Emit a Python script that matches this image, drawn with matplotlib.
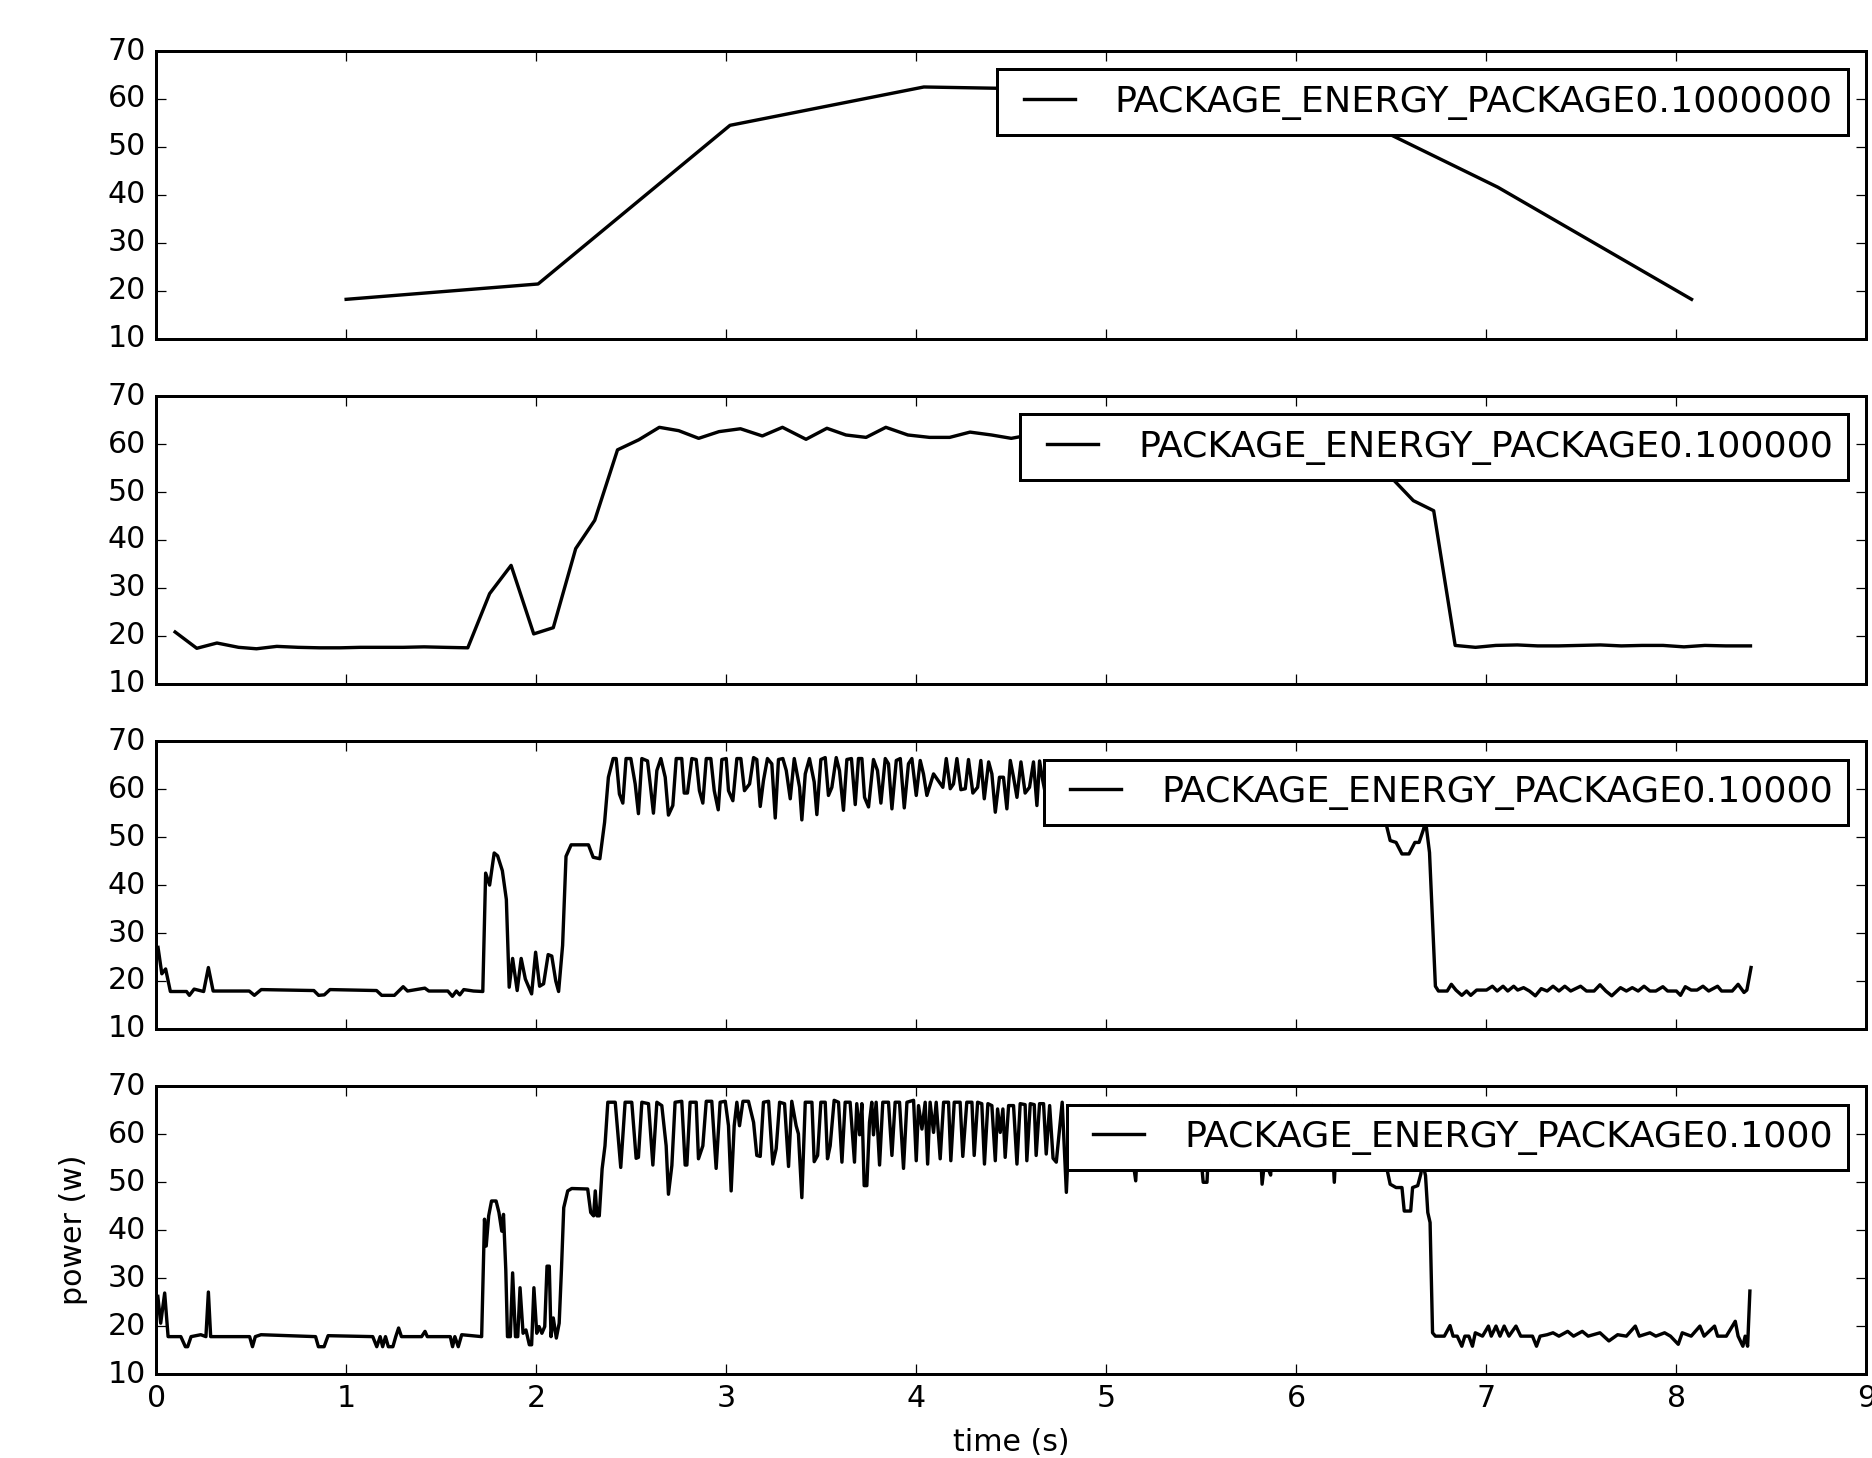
import matplotlib
matplotlib.use('Agg')
import matplotlib.pyplot as plt

# RAPL package power, sampled at 4 different intervals
labels = ['PACKAGE_ENERGY_PACKAGE0.1000000',
          'PACKAGE_ENERGY_PACKAGE0.100000',
          'PACKAGE_ENERGY_PACKAGE0.10000',
          'PACKAGE_ENERGY_PACKAGE0.1000']

# 1 s interval
t1 = [1.0, 2.01, 3.02, 4.04, 5.05, 6.06, 7.06, 8.08]
p1 = [18.2, 21.4, 54.5, 62.5, 61.8, 61.0, 41.6, 18.2]

# 100 ms interval
t2 = [0.1, 0.214, 0.32, 0.434, 0.528, 0.635, 0.748, 0.86, 0.97, 1.075,
      1.19, 1.3, 1.41, 1.516, 1.64, 1.755, 1.868, 1.987, 2.09, 2.208,
      2.308, 2.428, 2.54, 2.648, 2.75, 2.855, 2.962, 3.075, 3.19, 3.296,
      3.42, 3.53, 3.63, 3.736, 3.84, 3.956, 4.07, 4.176, 4.283, 4.396,
      4.5, 4.61, 4.72, 4.82, 4.93, 5.04, 5.14, 5.25, 5.36, 5.46,
      5.57, 5.68, 5.78, 5.89, 6.0, 6.1, 6.21, 6.32, 6.40, 6.51,
      6.616, 6.723, 6.836, 6.943, 7.05, 7.163, 7.27, 7.38, 7.49, 7.6,
      7.71, 7.82, 7.93, 8.04, 8.15, 8.26, 8.39]
p2 = [20.8, 17.4, 18.5, 17.6, 17.3, 17.8, 17.6, 17.5, 17.5, 17.6,
      17.6, 17.6, 17.7, 17.6, 17.5, 28.8, 34.7, 20.4, 21.7, 38.2,
      44.1, 58.8, 60.9, 63.5, 62.8, 61.2, 62.6, 63.2, 61.7, 63.5,
      61.0, 63.3, 61.9, 61.4, 63.5, 61.9, 61.4, 61.4, 62.5, 61.9,
      61.2, 62.0, 61.5, 62.8, 61.6, 62.3, 61.4, 62.9, 61.8, 62.2,
      61.3, 62.6, 61.9, 62.4, 61.5, 62.0, 61.2, 60.5, 59.5, 52.6,
      48.2, 46.1, 18.0, 17.6, 18.0, 18.1, 17.9, 17.9, 18.0, 18.1,
      17.9, 18.0, 18.0, 17.7, 18.0, 17.9, 17.9]

# 10 ms interval
t3 = [0.01, 0.03, 0.05, 0.075, 0.16, 0.175, 0.2, 0.25, 0.275, 0.3,
      0.4, 0.49, 0.517, 0.553, 0.83, 0.855, 0.885, 0.915, 1.16, 1.187,
      1.254, 1.3, 1.323, 1.414, 1.435, 1.535, 1.559, 1.58, 1.598, 1.619,
      1.67, 1.719, 1.734, 1.755, 1.779, 1.797, 1.822, 1.843, 1.858, 1.876,
      1.9, 1.921, 1.943, 1.976, 1.997, 2.018, 2.039, 2.063, 2.082, 2.103,
      2.118, 2.139, 2.157, 2.184, 2.214, 2.275, 2.3, 2.335, 2.36, 2.38,
      2.405, 2.421, 2.438, 2.456, 2.473, 2.498, 2.521, 2.538, 2.556, 2.586,
      2.600, 2.617, 2.635, 2.656, 2.679, 2.696, 2.719, 2.737, 2.766, 2.779,
      2.796, 2.819, 2.842, 2.859, 2.877, 2.895, 2.919, 2.937, 2.958, 2.977,
      3.000, 3.012, 3.035, 3.056, 3.077, 3.096, 3.123, 3.144, 3.161, 3.179,
      3.196, 3.217, 3.240, 3.258, 3.275, 3.298, 3.316, 3.337, 3.358, 3.386,
      3.398, 3.416, 3.438, 3.463, 3.477, 3.498, 3.521, 3.538, 3.556, 3.579,
      3.596, 3.617, 3.635, 3.659, 3.679, 3.696, 3.714, 3.728, 3.749, 3.775,
      3.796, 3.814, 3.837, 3.854, 3.872, 3.895, 3.916, 3.937, 3.959, 3.977,
      4.000, 4.021, 4.038, 4.056, 4.091, 4.140, 4.158, 4.179, 4.196, 4.214,
      4.235, 4.258, 4.275, 4.298, 4.323, 4.340, 4.358, 4.381, 4.398, 4.416,
      4.438, 4.459, 4.477, 4.495, 4.512, 4.530, 4.551, 4.573, 4.596, 4.617,
      4.635, 4.649, 4.665, 4.69, 4.715, 4.74, 4.765, 4.79, 4.815, 4.84,
      4.865, 4.89, 4.915, 4.94, 4.965, 4.99, 5.015, 5.04, 5.065, 5.09,
      5.115, 5.14, 5.165, 5.19, 5.215, 5.24, 5.265, 5.29, 5.315, 5.34,
      5.365, 5.39, 5.415, 5.44, 5.465, 5.49, 5.515, 5.54, 5.565, 5.59,
      5.615, 5.64, 5.665, 5.69, 5.715, 5.74, 5.765, 5.79, 5.815, 5.84,
      5.865, 5.89, 5.915, 5.94, 5.965, 5.99, 6.015, 6.04, 6.065, 6.09,
      6.115, 6.14, 6.165, 6.19, 6.215, 6.24, 6.265, 6.29, 6.315, 6.34,
      6.365, 6.39, 6.415, 6.44, 6.494, 6.525, 6.556, 6.593, 6.624, 6.646,
      6.670, 6.68, 6.701, 6.732, 6.748, 6.794, 6.816, 6.840, 6.871, 6.896,
      6.918, 6.949, 7.001, 7.032, 7.057, 7.088, 7.113, 7.144, 7.165, 7.196,
      7.227, 7.258, 7.289, 7.320, 7.351, 7.382, 7.413, 7.444, 7.496, 7.527,
      7.567, 7.598, 7.629, 7.660, 7.706, 7.737, 7.768, 7.799, 7.830, 7.861,
      7.892, 7.929, 7.954, 8.000, 8.022, 8.047, 8.078, 8.109, 8.140, 8.170,
      8.217, 8.238, 8.294, 8.325, 8.356, 8.371, 8.393]
p3 = [27.0, 21.5, 22.5, 17.8, 17.8, 17.0, 18.3, 17.8, 22.8, 17.9,
      17.9, 17.9, 17.0, 18.2, 18.0, 17.0, 17.1, 18.2, 18.0, 17.0,
      17.0, 18.8, 17.9, 18.5, 17.9, 17.9, 16.8, 17.9, 17.1, 18.2,
      17.9, 17.8, 42.5, 40.0, 46.7, 46.1, 43.0, 37.0, 18.7, 24.7,
      18.0, 24.7, 20.4, 17.3, 26.0, 18.9, 19.4, 25.5, 25.2, 20.0,
      17.8, 27.4, 46.0, 48.4, 48.4, 48.4, 45.8, 45.5, 53.1, 62.5,
      66.4, 66.4, 59.0, 57.1, 66.4, 66.4, 61.1, 54.9, 66.4, 65.9,
      61.1, 55.0, 63.9, 66.4, 62.5, 54.6, 56.6, 66.4, 66.4, 59.2,
      59.2, 66.4, 66.2, 59.7, 57.1, 66.4, 66.4, 59.7, 55.7, 66.2,
      66.4, 59.7, 57.6, 66.4, 66.4, 59.7, 61.1, 66.6, 66.2, 56.4,
      61.8, 66.4, 65.3, 54.0, 66.2, 66.4, 63.9, 58.0, 66.4, 60.4,
      53.6, 63.2, 66.4, 61.5, 54.7, 66.2, 66.6, 58.7, 60.4, 66.6,
      63.9, 55.6, 66.2, 66.4, 56.8, 66.4, 66.4, 58.3, 56.3, 66.2,
      63.9, 57.1, 66.4, 65.3, 55.9, 66.0, 66.4, 56.1, 65.3, 66.4,
      58.7, 66.0, 63.2, 58.7, 63.2, 60.4, 66.4, 60.1, 61.1, 66.4,
      59.9, 60.1, 66.2, 59.2, 60.4, 66.0, 58.0, 65.7, 63.2, 55.2,
      62.5, 62.5, 55.9, 66.0, 62.5, 58.3, 65.7, 59.2, 60.4, 65.7,
      56.6, 65.9, 62.0, 57.0, 65.0, 58.0, 65.0, 56.5, 64.5, 59.0,
      65.0, 57.0, 65.0, 58.0, 65.0, 56.0, 64.5, 59.5, 65.0, 57.0,
      65.0, 58.0, 65.0, 56.5, 65.0, 59.0, 65.0, 57.0, 64.5, 58.5,
      65.0, 56.0, 65.0, 59.0, 65.0, 57.5, 65.0, 58.0, 64.5, 56.5,
      65.0, 59.0, 65.0, 57.0, 65.0, 58.0, 65.0, 56.5, 64.5, 59.0,
      65.0, 57.0, 65.0, 58.5, 65.0, 56.0, 65.0, 59.0, 64.5, 57.0,
      65.0, 58.0, 65.0, 56.5, 65.0, 59.0, 65.0, 57.0, 64.5, 58.0,
      65.0, 57.0, 64.0, 58.0, 49.3, 48.9, 46.5, 46.5, 48.9, 48.9,
      51.7, 53.5, 46.8, 18.9, 17.9, 17.9, 19.3, 18.1, 17.0, 17.9,
      17.0, 18.1, 18.1, 18.9, 17.9, 18.9, 17.9, 18.9, 18.1, 18.6,
      17.9, 16.9, 18.4, 17.9, 18.9, 17.9, 18.9, 17.9, 18.9, 17.9,
      17.9, 19.2, 17.9, 16.9, 18.6, 17.9, 18.6, 17.9, 18.9, 17.9,
      17.9, 18.8, 17.9, 17.9, 17.0, 18.8, 18.1, 18.1, 18.9, 17.9,
      18.9, 17.9, 17.9, 19.3, 17.6, 18.1, 22.8]

# 1 ms interval
t4 = [0.009, 0.024, 0.045, 0.063, 0.130, 0.154, 0.166, 0.184, 0.235, 0.262,
      0.275, 0.287, 0.492, 0.507, 0.522, 0.552, 0.839, 0.854, 0.884, 0.905,
      1.140, 1.161, 1.179, 1.192, 1.207, 1.222, 1.246, 1.261, 1.276, 1.291,
      1.397, 1.415, 1.427, 1.548, 1.560, 1.572, 1.590, 1.608, 1.713, 1.728,
      1.737, 1.750, 1.765, 1.789, 1.804, 1.819, 1.828, 1.840, 1.849, 1.864,
      1.876, 1.891, 1.903, 1.915, 1.931, 1.946, 1.964, 1.976, 1.988, 2.003,
      2.015, 2.030, 2.045, 2.057, 2.069, 2.078, 2.090, 2.106, 2.121, 2.133,
      2.145, 2.166, 2.187, 2.271, 2.287, 2.302, 2.311, 2.320, 2.332, 2.347,
      2.362, 2.377, 2.416, 2.445, 2.468, 2.503, 2.526, 2.538, 2.556, 2.591,
      2.614, 2.635, 2.661, 2.684, 2.696, 2.714, 2.731, 2.766, 2.784, 2.793,
      2.810, 2.842, 2.854, 2.877, 2.895, 2.924, 2.947, 2.968, 2.995, 3.012,
      3.026, 3.042, 3.056, 3.070, 3.088, 3.117, 3.144, 3.161, 3.179, 3.196,
      3.223, 3.245, 3.263, 3.281, 3.307, 3.328, 3.345, 3.368, 3.380, 3.398,
      3.416, 3.451, 3.463, 3.481, 3.498, 3.521, 3.533, 3.547, 3.568, 3.591,
      3.609, 3.626, 3.652, 3.675, 3.687, 3.702, 3.714, 3.726, 3.740, 3.754,
      3.766, 3.775, 3.789, 3.807, 3.824, 3.854, 3.872, 3.889, 3.912, 3.933,
      3.951, 3.986, 4.000, 4.012, 4.030, 4.047, 4.060, 4.073, 4.091, 4.105,
      4.126, 4.144, 4.170, 4.182, 4.200, 4.231, 4.245, 4.266, 4.293, 4.305,
      4.323, 4.345, 4.359, 4.377, 4.398, 4.416, 4.428, 4.442, 4.456, 4.468,
      4.486, 4.512, 4.530, 4.547, 4.573, 4.582, 4.600, 4.621, 4.631, 4.649,
      4.670, 4.684, 4.702, 4.72, 4.737, 4.768, 4.790, 4.81, 4.835, 4.86,
      4.885, 4.91, 4.935, 4.96, 4.985, 5.01, 5.035, 5.06, 5.085, 5.11,
      5.135, 5.155, 5.175, 5.2, 5.225, 5.25, 5.275, 5.3, 5.325, 5.35,
      5.375, 5.4, 5.425, 5.45, 5.475, 5.51, 5.53, 5.55, 5.575, 5.6,
      5.625, 5.65, 5.675, 5.7, 5.725, 5.75, 5.775, 5.8, 5.82, 5.835,
      5.85, 5.865, 5.885, 5.91, 5.935, 5.96, 5.985, 6.01, 6.035, 6.06,
      6.085, 6.11, 6.135, 6.16, 6.18, 6.2, 6.22, 6.245, 6.27, 6.295,
      6.32, 6.345, 6.37, 6.395, 6.42, 6.445, 6.465, 6.494, 6.525, 6.556,
      6.568, 6.602, 6.612, 6.639, 6.655, 6.665, 6.680, 6.692, 6.704, 6.717,
      6.732, 6.779, 6.809, 6.825, 6.847, 6.871, 6.887, 6.908, 6.927, 6.942,
      6.980, 7.011, 7.026, 7.051, 7.072, 7.094, 7.119, 7.156, 7.181, 7.243,
      7.264, 7.283, 7.320, 7.351, 7.382, 7.428, 7.459, 7.505, 7.536, 7.598,
      7.645, 7.691, 7.737, 7.784, 7.805, 7.861, 7.892, 7.938, 7.969, 8.010,
      8.031, 8.078, 8.124, 8.146, 8.201, 8.217, 8.263, 8.310, 8.325, 8.350,
      8.362, 8.375, 8.387]
p4 = [26.2, 20.6, 26.9, 17.8, 17.8, 15.7, 15.7, 17.8, 18.2, 17.8,
      27.1, 17.8, 17.8, 15.7, 17.8, 18.2, 17.8, 15.7, 15.7, 18.0,
      17.8, 15.7, 17.8, 15.7, 17.8, 15.7, 15.7, 17.8, 19.6, 17.8,
      17.8, 18.9, 17.8, 17.8, 15.7, 17.8, 15.7, 18.2, 17.8, 42.3,
      36.7, 43.0, 46.1, 46.1, 43.7, 39.8, 43.3, 31.8, 17.8, 17.8,
      31.1, 17.8, 17.8, 28.0, 18.5, 19.2, 16.1, 16.1, 28.0, 18.5,
      19.9, 18.5, 19.9, 32.5, 32.5, 17.8, 21.7, 17.5, 20.6, 31.8,
      44.7, 48.2, 48.7, 48.6, 43.7, 43.0, 48.2, 43.0, 43.0, 52.8,
      57.6, 66.7, 66.7, 53.1, 66.7, 66.7, 55.0, 55.2, 66.7, 66.4,
      53.6, 66.7, 66.0, 57.6, 47.5, 53.5, 66.7, 66.9, 53.6, 53.6,
      66.7, 66.7, 54.9, 57.6, 66.9, 66.9, 52.9, 66.7, 66.9, 61.8,
      48.2, 61.8, 66.7, 61.8, 66.9, 66.9, 62.5, 55.6, 55.4, 66.7,
      66.9, 53.8, 57.0, 66.7, 66.4, 53.3, 66.9, 61.8, 60.1, 46.8,
      66.7, 66.7, 54.3, 55.6, 66.7, 66.7, 54.9, 57.6, 67.1, 66.7,
      54.2, 66.7, 66.7, 54.2, 66.4, 59.9, 66.4, 49.3, 49.3, 62.5,
      66.7, 59.9, 66.7, 53.6, 66.7, 66.7, 55.6, 66.7, 66.7, 52.9,
      66.7, 67.1, 54.5, 66.0, 61.1, 66.7, 53.8, 66.7, 60.4, 66.7,
      54.9, 66.7, 66.7, 54.5, 66.7, 66.7, 55.4, 66.7, 66.7, 55.6,
      66.7, 66.4, 53.8, 66.4, 66.0, 54.5, 65.3, 60.4, 65.3, 55.2,
      66.0, 66.0, 53.8, 66.4, 66.2, 54.5, 66.4, 66.2, 55.6, 66.4,
      66.4, 55.9, 66.0, 55.0, 54.2, 66.7, 47.9, 66.0, 56.0, 66.0,
      55.0, 66.0, 56.0, 66.0, 55.5, 66.0, 56.0, 66.0, 55.0, 66.0,
      56.0, 50.3, 66.0, 55.5, 66.0, 56.0, 66.0, 55.0, 66.0, 56.0,
      66.0, 55.5, 66.0, 56.0, 66.0, 50.0, 50.0, 66.0, 55.0, 66.0,
      56.0, 66.0, 55.5, 66.0, 56.0, 66.0, 55.0, 66.0, 49.6, 55.0,
      53.0, 51.5, 66.0, 56.0, 66.0, 55.0, 66.0, 56.0, 66.0, 55.5,
      66.0, 56.0, 66.0, 55.0, 66.0, 50.0, 66.0, 56.0, 66.0, 55.0,
      66.0, 56.0, 66.0, 55.5, 66.0, 56.0, 55.0, 49.6, 48.9, 48.9,
      44.0, 44.0, 48.9, 49.3, 51.7, 54.0, 51.4, 43.7, 41.6, 18.6,
      17.9, 17.9, 20.1, 17.9, 17.9, 15.8, 17.9, 17.9, 15.8, 18.6,
      17.9, 20.0, 17.9, 20.0, 17.9, 20.0, 17.9, 20.0, 17.9, 17.9,
      15.8, 17.9, 18.2, 18.6, 17.9, 18.9, 17.9, 18.9, 17.9, 18.6,
      16.9, 18.2, 17.9, 20.0, 17.9, 18.6, 17.9, 18.6, 17.9, 16.2,
      18.6, 17.9, 20.0, 17.9, 20.0, 17.9, 17.9, 21.0, 17.9, 15.8,
      17.9, 15.8, 27.3]

times = [t1, t2, t3, t4]
powers = [p1, p2, p3, p4]

plt.style.use('classic')
plt.rcParams['axes.linewidth'] = 1.2
plt.rcParams['legend.fontsize'] = 14.6

fig, axes = plt.subplots(4, 1, sharex=True, figsize=(10.4, 8.1), dpi=180,
                         facecolor='white')
fig.subplots_adjust(left=0.0834, right=0.997, bottom=0.0576, top=0.965,
                    hspace=0.2)

for ax, t, p, lab in zip(axes, times, powers, labels):
    ax.plot(t, p, color='k', linewidth=1.35, label=lab)
    ax.set_xlim(0, 9)
    ax.set_ylim(10, 70)
    leg = ax.legend(loc='upper right', borderpad=0.42)
    leg.get_frame().set_linewidth(1.2)

axes[-1].set_xlabel('time (s)', labelpad=6)
axes[-1].set_ylabel('power (w)', labelpad=8)

fig.savefig('out.png', dpi=180, facecolor='white')
